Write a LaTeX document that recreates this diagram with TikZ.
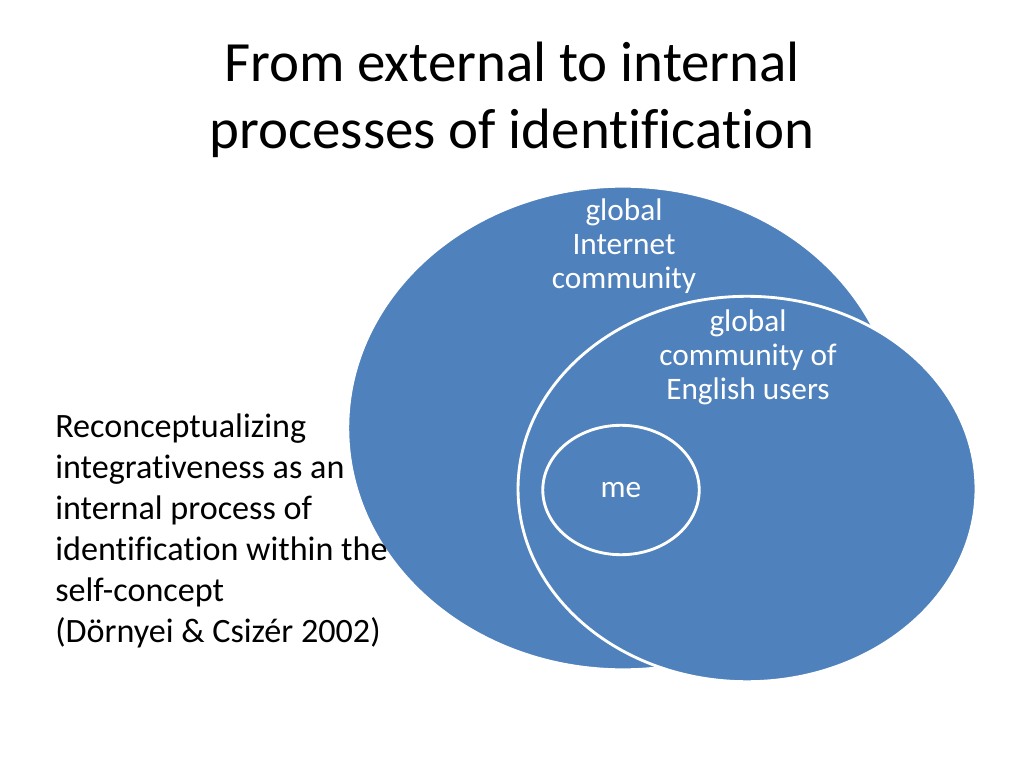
\documentclass[tikz,border=0pt]{standalone}
\usepackage{fontspec}
\setmainfont{Carlito}[RawFeature={-liga;-dlig;-clig}]
\usetikzlibrary{shapes.geometric,positioning}
\definecolor{setblue}{HTML}{4F81BD}

\begin{document}
\begin{tikzpicture}[x=0.703125pt, y=-0.703125pt,
    setshape/.style={draw=white, line width=2pt, ellipse, fill=setblue, inner sep=0pt},
    setlabel/.style={align=center, text=white, font=\fontsize{22}{24}\selectfont, inner sep=0pt},
    titletext/.style={align=center, font=\fontsize{40}{47}\selectfont, inner sep=0pt},
    bodytext/.style={align=left, font=\fontsize{24}{28.8}\selectfont, inner sep=0pt}]
    \useasboundingbox[fill=white] (0,0) rectangle (1024,768);
    % Title
    \node[titletext] (title) at (512, 100) {From external to internal\\processes of identification};
    % Sets
    \node[setshape, minimum width=387pt, minimum height=340pt] (internet) at (623, 428) {};
    \node[setshape, minimum width=322pt, minimum height=271pt] (english) at (747, 489) {};
    \node[setshape, minimum width=110pt, minimum height=91pt] (me) at (621, 490) {};
    % Labels
    \node[setlabel] (internet_lbl) at (624, 246) {global\\Internet\\community};
    \node[setlabel] (english_lbl) at (748, 357) {global\\community of\\English users};
    \node[setlabel] (me_lbl) at (me.center) {me};
    % Side text
    \node[bodytext, anchor=west] (note) at (55, 531) {Reconceptualizing\\integrativeness as an\\internal process of\\identification within the\\self-concept\\(Dörnyei \& Csizér 2002)};
\end{tikzpicture}
\end{document}
